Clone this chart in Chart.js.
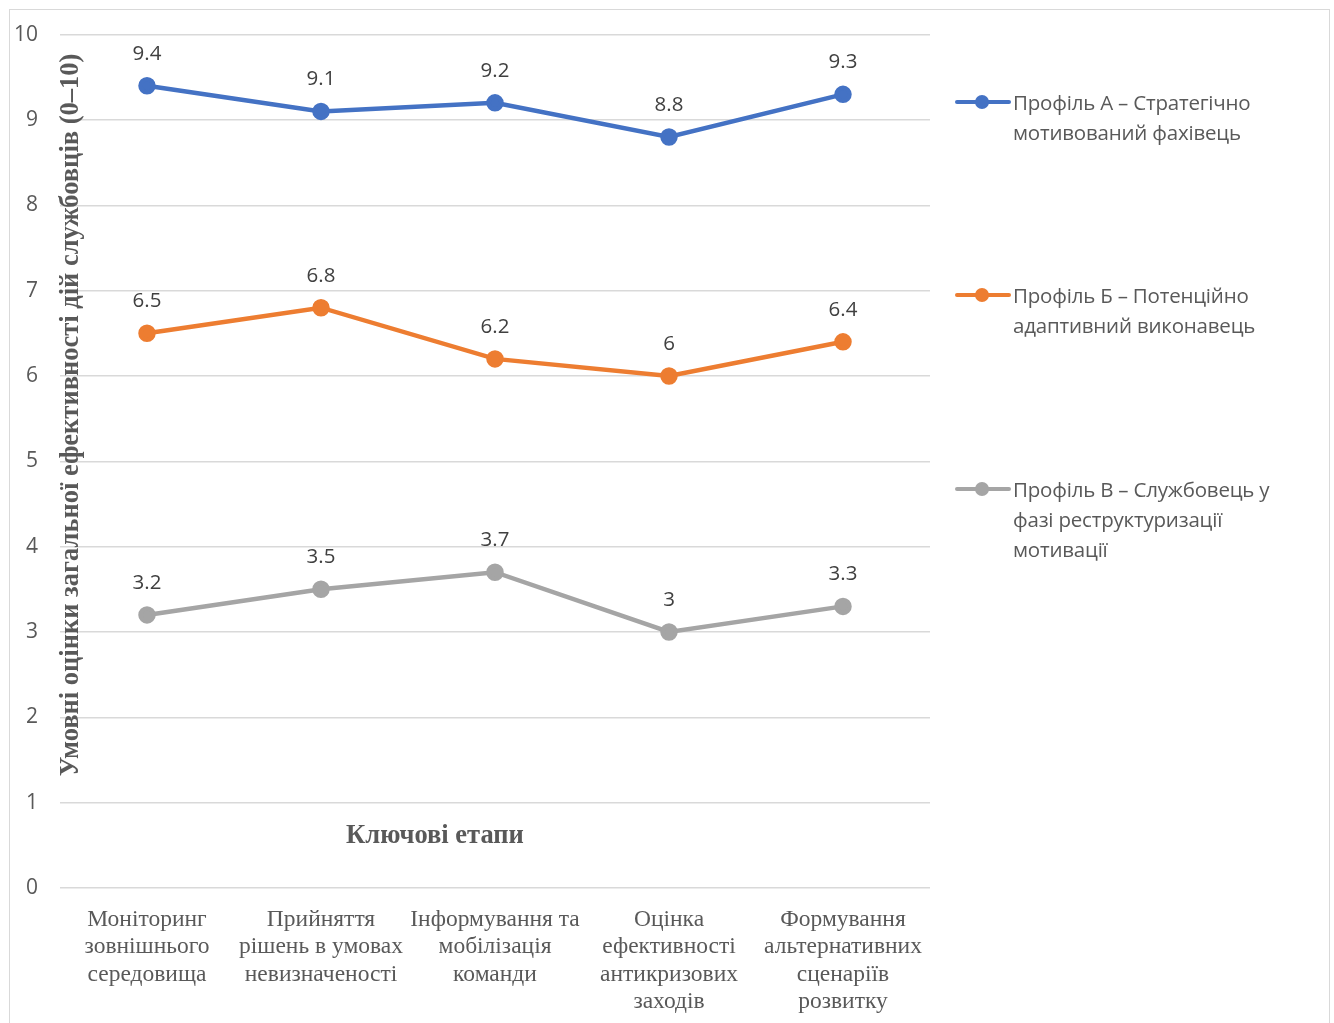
<!DOCTYPE html>
<html>
<head>
<meta charset="utf-8">
<script src="https://cdn.jsdelivr.net/npm/chart.js@4/dist/chart.umd.min.js"></script>
<style>
  body { margin: 0; background: #fff; }
  #wrap { position: relative; width: 1334px; height: 1023px; }
  #legend { position: absolute; left: 955px; top: 0; font-family: "Open Sans", sans-serif; font-size: 20.5px; color: #595959; letter-spacing: -0.2px; }
  .item { position: absolute; left: 0; width: 370px; display: flex; align-items: flex-start; }
  .sw { position: relative; width: 56px; height: 30px; flex: none; }
  .sw i { position: absolute; left: 0; top: 13px; width: 56px; height: 4px; border-radius: 2px; }
  .sw b { position: absolute; left: 20px; top: 8px; width: 14px; height: 14px; border-radius: 50%; }
  .txt { line-height: 30px; padding-left: 2px; white-space: nowrap; }
</style>
</head>
<body>
<div id="wrap">
  <canvas id="mainChart" width="1334" height="1023"></canvas>
  <div id="legend"></div>
</div>
<script>
const stages = [
    ['Моніторинг', 'зовнішнього', 'середовища'],
    ['Прийняття', 'рішень в умовах', 'невизначеності'],
    ['Інформування та', 'мобілізація', 'команди'],
    ['Оцінка', 'ефективності', 'антикризових', 'заходів'],
    ['Формування', 'альтернативних', 'сценаріїв', 'розвитку']
];
const profileA = [9.4, 9.1, 9.2, 8.8, 9.3];
const profileB = [6.5, 6.8, 6.2, 6.0, 6.4];
const profileC = [3.2, 3.5, 3.7, 3.0, 3.3];
const seriesNames = [
    ['Профіль А – Стратегічно', 'мотивований фахівець'],
    ['Профіль Б – Потенційно', 'адаптивний виконавець'],
    ['Профіль В – Службовець у', 'фазі реструктуризації', 'мотивації']
];
const yTitle = 'Умовні оцінки загальної ефективності дій службовців (0–10)';
const xTitle = 'Ключові етапи';

const colors = ['#4472C4', '#ED7D31', '#A5A5A5'];
const serif = '"Liberation Serif", "Times New Roman", serif';
const sans = '"Open Sans", sans-serif';

const frame = {
    id: 'frame',
    beforeDraw(chart) {
        const c = chart.ctx;
        c.save();
        c.fillStyle = '#fff';
        c.fillRect(0, 0, chart.width, chart.height);
        c.strokeStyle = '#D9D9D9';
        c.lineWidth = 1;
        c.strokeRect(9.5, 9.5, 1320, 1030);
        c.restore();
    }
};

const labelsAndTitles = {
    id: 'labelsAndTitles',
    afterDatasetsDraw(chart) {
        const c = chart.ctx;
        const a = chart.chartArea;
        c.save();
        c.font = '20.5px ' + sans;
        c.fillStyle = '#404040';
        c.textAlign = 'center';
        c.textBaseline = 'middle';
        chart.data.datasets.forEach((ds, i) => {
            chart.getDatasetMeta(i).data.forEach((pt, j) => {
                c.fillText(String(ds.data[j]), pt.x, pt.y - 32);
            });
        });
        c.fillStyle = '#595959';
        c.font = 'bold 26.5px ' + serif;
        c.fillText(xTitle, a.left + a.width * 0.431, 836);
        c.translate(a.left + 11, 415);
        c.rotate(-Math.PI / 2);
        c.fillText(yTitle, 0, 0);
        c.restore();
    }
};

const ctx = document.getElementById('mainChart').getContext('2d');
const mainChart = new Chart(ctx, {
    type: 'line',
    data: {
        labels: stages,
        datasets: [profileA, profileB, profileC].map((d, i) => ({
            label: seriesNames[i].join(' '),
            data: d,
            borderColor: colors[i],
            backgroundColor: colors[i],
            borderWidth: 4.5,
            pointRadius: 6.5,
            pointHoverRadius: 6.5,
            tension: 0
        }))
    },
    options: {
        responsive: false,
        animation: false,
        layout: { padding: { left: 10, right: 404, top: 33, bottom: 0 } },
        plugins: { legend: { display: false }, tooltip: { enabled: false } },
        scales: {
            x: {
                offset: true,
                grid: { display: false },
                border: { display: false },
                ticks: { color: '#595959', font: { family: serif, size: 23.5, lineHeight: 1.17 }, maxRotation: 0, padding: 10, autoSkip: false },
                afterFit(s) { s.height = 135; }
            },
            y: {
                min: 0, max: 10,
                ticks: { stepSize: 1, color: '#595959', font: { family: sans, size: 21 }, padding: 22 },
                grid: { color: '#D9D9D9', lineWidth: 1.5, drawTicks: false },
                border: { display: false },
                afterFit(s) { s.width = 50; }
            }
        }
    },
    plugins: [frame, labelsAndTitles]
});

const legend = document.getElementById('legend');
const legendTops = [87, 280, 474];
seriesNames.forEach((lines, i) => {
    const item = document.createElement('div');
    item.className = 'item';
    item.style.top = legendTops[i] + 'px';
    item.innerHTML = `<div class="sw"><i style="background:${colors[i]}"></i><b style="background:${colors[i]}"></b></div>` +
        `<div class="txt">${lines.join('<br>')}</div>`;
    legend.appendChild(item);
});
</script>
</body>
</html>
